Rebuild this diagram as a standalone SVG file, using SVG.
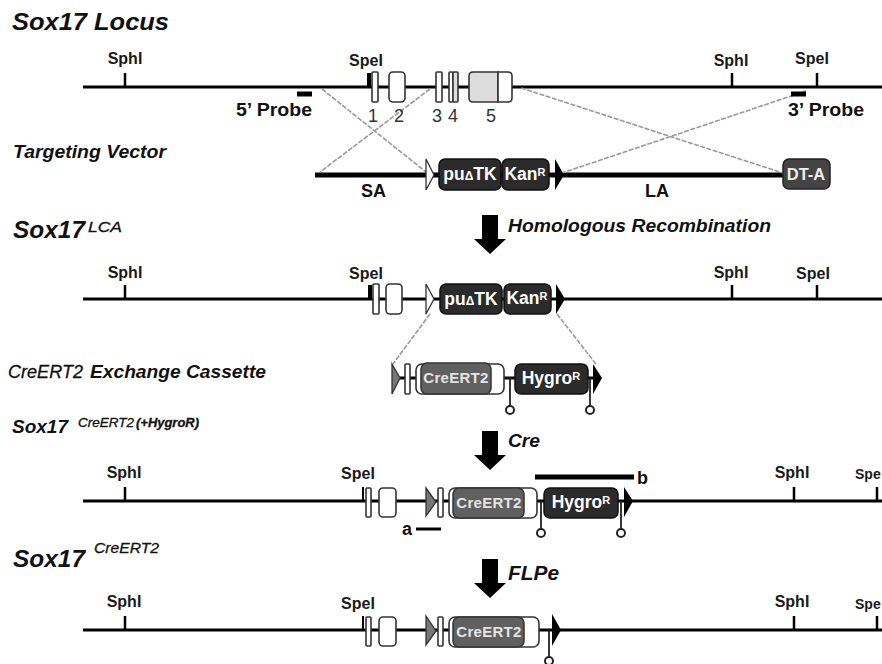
<svg xmlns="http://www.w3.org/2000/svg" width="882" height="664" viewBox="0 0 882 664">
<style>
text{font-family:"Liberation Sans",Arial,sans-serif;fill:#111}
.h{font-size:23.5px;font-weight:bold;font-style:italic}
.s{font-size:18px;font-weight:bold;font-style:italic}
.i{font-style:italic;stroke:#111;stroke-width:.3px}
.r{font-size:16px;font-weight:bold;text-anchor:middle;fill:#1a1a1a}
.e{font-size:14px;font-weight:bold;fill:#1a1a1a}
.p{font-size:18px;font-weight:bold}
.n{font-size:18px;text-anchor:middle;fill:#333}
.l{font-size:17.5px;font-weight:bold;fill:#fff;text-anchor:middle}
.c{font-size:15px;font-weight:bold;fill:#e4e4e4;text-anchor:middle;letter-spacing:.3px}
.sup{font-size:11px}
.line{stroke:#000;stroke-width:3;fill:none}
.thick{stroke:#000;stroke-width:5;fill:none}
.tick{stroke:#000;stroke-width:2.5;fill:none}
.dash{stroke:#999;stroke-width:1.6;stroke-dasharray:5 1.5;fill:none}
.ex{fill:#fff;stroke:#333;stroke-width:1.6}
.exg{fill:#ddd;stroke:#333;stroke-width:1.6}
.dark{fill:#2b2b2b;stroke:#111;stroke-width:1.5}
.grey{fill:#606060;stroke:#333;stroke-width:1.5}
.dta{fill:#444;stroke:#222;stroke-width:1.5}
.lol{stroke:#222;stroke-width:1.8;fill:none}
.cir{fill:#fff;stroke:#222;stroke-width:2}
.tw{fill:#fff;stroke:#333;stroke-width:1.3}
.tg{fill:#777;stroke:#333;stroke-width:1.3}
</style>
<defs>
<path id="arrow" d="M-8 0H8V24H16L0 39L-16 24H-8Z" fill="#000"/>
</defs>

<g id="connectors">
<path class="line" d="M83 87H882"/>
<path class="thick" d="M315 175H785"/>
<path class="line" d="M83 299H882"/>
<path class="line" d="M400 378H600"/>
<path class="line" d="M83 501H882"/>
<path class="line" d="M83 630H882"/>
<path class="dash" d="M322 89L426 172M430 89L320 172M521 88L783 173M806 91L562 173"/>
<path class="dash" d="M430 314L393 364M557 314L596 364"/>
<path class="tick" d="M125 73V87M732 73V87M817 73V87"/>
<path class="tick" d="M125 285V299M732 285V299M817 285V299"/>
<path class="tick" d="M125 487V501M794 487V501M877 487V501"/>
<path class="tick" d="M125 616V630M794 616V630M877 616V630"/>
<path class="lol" d="M510 378V406M590 378V406M541 501V529M621 501V529M549 630V657"/>
<path d="M535 477H634" stroke="#000" stroke-width="5" fill="none"/>
<path d="M416 529H441" stroke="#000" stroke-width="3" fill="none"/>
<path d="M297 94H312M791 94H806" stroke="#000" stroke-width="5" fill="none"/>
</g>

<g id="titles">
<text class="h" x="12" y="30" textLength="157" lengthAdjust="spacingAndGlyphs">Sox17 Locus</text>
<text class="s" x="13" y="158" textLength="153" lengthAdjust="spacingAndGlyphs">Targeting Vector</text>
<text class="h" x="13" y="238" textLength="72" lengthAdjust="spacingAndGlyphs">Sox17</text>
<text class="i" x="88" y="232" font-size="15" textLength="34" lengthAdjust="spacingAndGlyphs">LCA</text>
<text class="i" x="8" y="378" font-size="18" textLength="75" lengthAdjust="spacingAndGlyphs">CreERT2</text>
<text class="s" x="90" y="378" textLength="176" lengthAdjust="spacingAndGlyphs">Exchange Cassette</text>
<text class="s" x="12" y="433" textLength="56" lengthAdjust="spacingAndGlyphs">Sox17</text>
<text class="i" x="78" y="427" font-size="12" textLength="56" lengthAdjust="spacingAndGlyphs">CreERT2</text>
<text class="i" x="136" y="427" font-size="12" font-weight="bold" textLength="63" lengthAdjust="spacingAndGlyphs">(+HygroR)</text>
<text class="h" x="13" y="567" textLength="72" lengthAdjust="spacingAndGlyphs">Sox17</text>
<text class="i" x="94" y="553" font-size="15" textLength="65" lengthAdjust="spacingAndGlyphs">CreERT2</text>
</g>

<g id="arrow1"><use href="#arrow" x="490" y="215"/><text class="s" x="508" y="232" textLength="263" lengthAdjust="spacingAndGlyphs">Homologous Recombination</text></g>
<g id="arrow2"><use href="#arrow" x="490" y="431"/><text class="s" x="508" y="447" textLength="32" lengthAdjust="spacingAndGlyphs">Cre</text></g>
<g id="arrow3"><use href="#arrow" x="490" y="559"/><text class="s" x="508" y="580" style="font-size:20px" textLength="51" lengthAdjust="spacingAndGlyphs">FLPe</text></g>

<g id="site-labels">
<text class="r" x="125" y="64">SphI</text><text class="r" x="366" y="66">SpeI</text><text class="r" x="731" y="66">SphI</text><text class="r" x="812" y="64">SpeI</text>
<text class="r" x="125" y="278">SphI</text><text class="r" x="366" y="279">SpeI</text><text class="r" x="731" y="278">SphI</text><text class="r" x="813" y="279">SpeI</text>
<text class="r" x="124" y="478">SphI</text><text class="r" x="358" y="479">SpeI</text><text class="r" x="792" y="478">SphI</text><text class="e" x="855" y="479">Spe</text>
<text class="r" x="124" y="607">SphI</text><text class="r" x="358" y="609">SpeI</text><text class="r" x="792" y="607">SphI</text><text class="e" x="855" y="609">Spe</text>
<text class="p" x="236" y="116" textLength="76" lengthAdjust="spacingAndGlyphs">5’ Probe</text><text class="p" x="788" y="116" textLength="76" lengthAdjust="spacingAndGlyphs">3’ Probe</text>
<text class="p" x="361" y="197">SA</text><text class="p" x="645" y="197">LA</text>
<text class="p" x="402" y="535">a</text><text class="p" x="637" y="484">b</text>
</g>

<g id="locus">
<rect x="367" y="73" width="4" height="14" fill="#000"/>
<rect class="ex" x="372" y="72" width="6" height="30" rx="1"/>
<rect class="ex" x="389" y="72" width="16" height="30" rx="4"/>
<rect class="ex" x="436" y="72" width="6" height="30" rx="1"/>
<rect class="ex" x="449" y="72" width="4" height="30" rx="1"/>
<rect class="exg" x="453" y="72" width="5" height="30" rx="1"/>
<path class="exg" d="M473 72H498V102H473Q469 102 469 98V76Q469 72 473 72Z"/>
<path class="ex" d="M498 72H508Q512 72 512 76V98Q512 102 508 102H498Z"/>
<text class="n" x="373" y="122">1</text><text class="n" x="399" y="122">2</text><text class="n" x="437" y="122">3</text><text class="n" x="453" y="122">4</text><text class="n" x="491" y="122">5</text>
</g>

<g id="vector">
<path class="tw" d="M426 159L434 175L426 190Z"/>
<rect class="dark" x="439" y="159" width="62" height="31" rx="6"/>
<text class="l" x="470" y="180">pu<tspan font-size="12">Δ</tspan>TK</text>
<rect class="dark" x="502" y="159" width="47" height="31" rx="6"/>
<text class="l" x="525" y="180">Kan<tspan class="sup" dy="-4">R</tspan></text>
<path d="M555 159L564 175L555 190Z" fill="#000"/>
<rect class="dta" x="783" y="159" width="47" height="30" rx="6"/>
<text class="l" x="806" y="180" style="fill:#eee;font-size:16.5px">DT-A</text>
</g>

<g id="lca">
<rect x="368" y="285" width="4" height="14" fill="#000"/>
<rect class="ex" x="373" y="284" width="6" height="30" rx="1"/>
<rect class="ex" x="386" y="284" width="16" height="30" rx="4"/>
<path class="tw" d="M426 284L434 299L426 314Z"/>
<rect class="dark" x="440" y="284" width="62" height="30" rx="6"/>
<text class="l" x="471" y="305">pu<tspan font-size="12">Δ</tspan>TK</text>
<rect class="dark" x="504" y="284" width="47" height="30" rx="6"/>
<text class="l" x="527" y="304">Kan<tspan class="sup" dy="-4">R</tspan></text>
<path d="M556 284L565 299L556 314Z" fill="#000"/>
</g>

<g id="cassette">
<path class="tg" d="M392 364L400 378L392 394Z"/>
<rect class="ex" x="405" y="364" width="5" height="30" rx="1"/>
<rect class="ex" x="416" y="364" width="88" height="30" rx="6"/>
<rect class="grey" x="421" y="363" width="70" height="31" rx="6"/>
<text class="c" x="456" y="383">CreERT2</text>
<rect class="dark" x="515" y="364" width="73" height="30" rx="6"/>
<text class="l" x="551" y="384">Hygro<tspan class="sup" dy="-4">R</tspan></text>
<path d="M593 364L602 378L593 394Z" fill="#000"/>
<circle class="cir" cx="510" cy="410" r="4"/><circle class="cir" cx="590" cy="410" r="4"/>
</g>

<g id="hygro-allele">
<path d="M362 487H364V501H362Z" fill="#000"/>
<rect class="ex" x="366" y="488" width="5" height="29" rx="1"/>
<rect class="ex" x="379" y="488" width="17" height="29" rx="4"/>
<path class="tg" d="M426 488L436 502L426 516Z"/>
<rect class="ex" x="438" y="488" width="5" height="29" rx="1"/>
<rect class="ex" x="449" y="488" width="88" height="30" rx="6"/>
<rect class="grey" x="453" y="488" width="71" height="30" rx="6"/>
<text class="c" x="489" y="508">CreERT2</text>
<rect class="dark" x="544" y="488" width="74" height="30" rx="6"/>
<text class="l" x="581" y="508">Hygro<tspan class="sup" dy="-4">R</tspan></text>
<path d="M624 487L633 501L624 517Z" fill="#000"/>
<circle class="cir" cx="541" cy="533" r="4"/><circle class="cir" cx="621" cy="533" r="4"/>
</g>

<g id="final-allele">
<path d="M362 616H364V630H362Z" fill="#000"/>
<rect class="ex" x="366" y="617" width="5" height="29" rx="1"/>
<rect class="ex" x="379" y="617" width="17" height="29" rx="4"/>
<path class="tg" d="M426 616L436 631L426 645Z"/>
<rect class="ex" x="438" y="617" width="5" height="29" rx="1"/>
<rect class="ex" x="449" y="617" width="90" height="30" rx="6"/>
<rect class="grey" x="453" y="617" width="71" height="30" rx="6"/>
<text class="c" x="489" y="637">CreERT2</text>
<path d="M552 614L561 630L552 646Z" fill="#000"/>
<circle class="cir" cx="549" cy="661" r="4"/>
</g>
</svg>
